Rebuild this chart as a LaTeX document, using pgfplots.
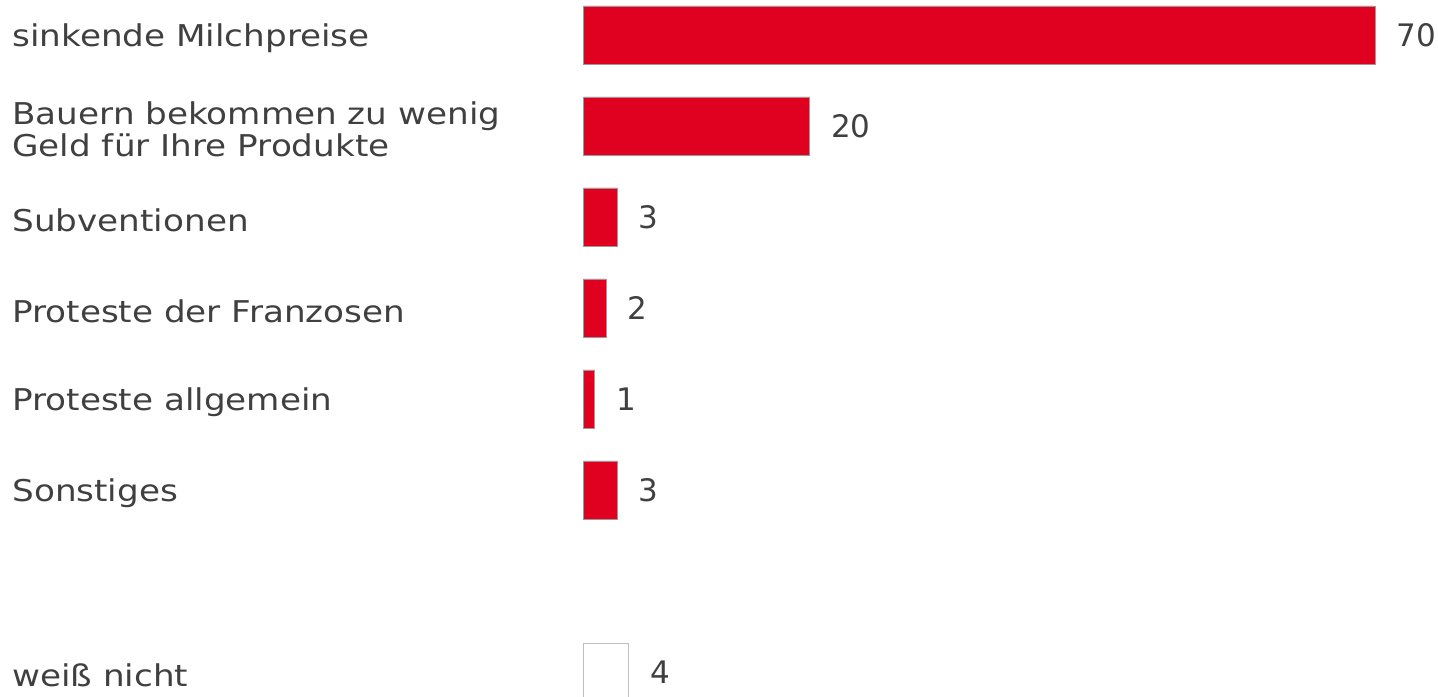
\documentclass[border=0pt]{standalone}
\usepackage{pgfplots}
\pgfplotsset{compat=1.18}
\usepackage{fontspec}
\setmainfont{DejaVu Sans}
\newfontfamily\labelfont{DejaVu Sans}[FakeStretch=1.14]
\definecolor{barred}{HTML}{E00020}
\definecolor{txt}{HTML}{404040}
\begin{document}
\begin{tikzpicture}
\useasboundingbox (0pt,0pt) rectangle (719pt,348pt);
\clip (0pt,0pt) rectangle (719pt,348pt);
\begin{axis}[
 at={(291.75pt,353.25pt)}, anchor=north west,
 scale only axis, width=395.75pt, height=364pt,
 xmin=0, xmax=70, ymin=-0.5, ymax=7.5, y dir=reverse,
 xbar, bar width=29pt, bar shift=0pt,
 axis line style={draw=none}, xtick=\empty,
 ytick={0,1,2,3,4,5,7},
 yticklabels={sinkende Milchpreise, {Bauern bekommen zu wenig\\Geld für Ihre Produkte}, Subventionen, Proteste der Franzosen, Proteste allgemein, Sonstiges, weiß nicht},
 major tick length=0pt,
 yticklabel style={anchor=west, align=left, inner sep=0pt, xshift=-285.75pt, yshift=-1.5pt, font=\labelfont\fontsize{15}{16}\selectfont, text=txt},
 nodes near coords,
 nodes near coords style={anchor=west, inner sep=0pt, xshift=10.5pt, font=\fontsize{15.5}{16}\selectfont, text=txt},
 /pgf/number format/assume math mode=true,
 clip=false,
]
\addplot[fill=barred, draw=gray!80, line width=0.4pt] coordinates {(70,0) (20,1) (3,2) (2,3) (1,4) (3,5)};
\addplot[fill=white, draw=gray!50, line width=0.4pt] coordinates {(4,7)};
\end{axis}
\end{tikzpicture}
\end{document}
